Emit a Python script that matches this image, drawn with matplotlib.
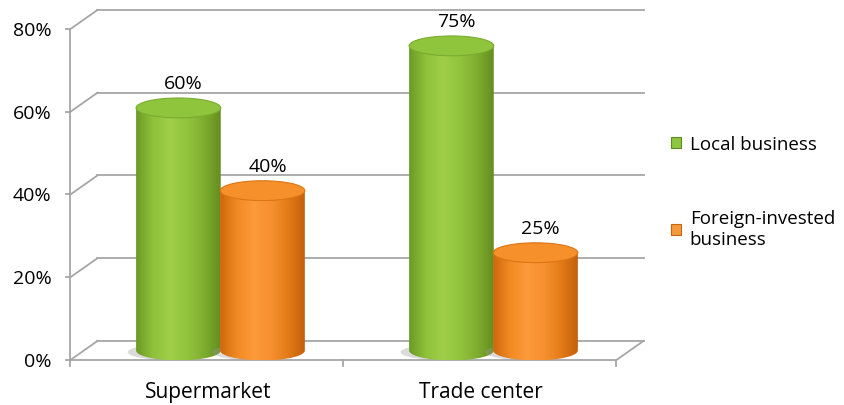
import matplotlib
matplotlib.use('Agg')
import matplotlib.pyplot as plt
import numpy as np
from matplotlib.patches import Ellipse, Polygon, Patch
from matplotlib.colors import LinearSegmentedColormap

# data
categories = ['Supermarket', 'Trade center']
series = ['Local business', 'Foreign-invested\nbusiness']
local = [60, 75]
foreign = [40, 25]
yticks = [0, 20, 40, 60, 80]

# look
GRID = '#A6A6A6'
FONT = 'Open Sans'
FS = 13.5
DX, DY = 0.099, 4.6        # depth offset of the back wall (data units)
W = 0.31                   # cylinder width
EH = 4.8                   # ellipse height (percent units)
OFF = 0.154                # half distance between the two cylinders
TOP_DEPTH = 0.2            # perspective: tops sit nearer the front plane

green_cm = LinearSegmentedColormap.from_list(
    'g', ['#6c9a25', '#8fc13a', '#9fcf48', '#93c43e', '#7fae2f', '#648d1f'])
orange_cm = LinearSegmentedColormap.from_list(
    'o', ['#cf670c', '#f08a24', '#fd9a3a', '#f79030', '#e47b18', '#c4600b'])
series_style = [
    (green_cm, '#8fc53d', '#7aab2e', '#8dc63f', '#5f8a22'),
    (orange_cm, '#f5902a', '#dc7514', '#f39a3a', '#c86412'),
]

fig = plt.figure(figsize=(8.45, 4.06), dpi=100)
ax = fig.add_axes([0, 0, 1, 1])
ax.set_axis_off()

x_left, x_right = -0.5, len(categories) - 0.5


def cylinder(xc, val, cmap, topc, edgec, z):
    yb = DY * 0.5
    yt = val + DY * TOP_DEPTH
    # soft shadow on the floor, mostly to the left
    ax.add_patch(Ellipse((xc - W * 0.1, yb - 0.4), W * 1.0, EH * 0.8,
                         facecolor='#9a9a9a', edgecolor='none', alpha=0.35, zorder=z))
    t = np.linspace(np.pi, 2 * np.pi, 80)
    arc = np.column_stack([xc + W / 2 * np.cos(t), yb + EH / 2 * np.sin(t)])
    poly = np.vstack([[xc - W / 2, yt], arc, [xc + W / 2, yt]])
    body = Polygon(poly, closed=True, facecolor='none', edgecolor='none', zorder=z + 1)
    ax.add_patch(body)
    grad = np.linspace(0, 1, 256).reshape(1, -1)
    im = ax.imshow(grad, cmap=cmap, extent=[xc - W / 2, xc + W / 2, yb - EH / 2, yt],
                   aspect='auto', zorder=z + 1, interpolation='bilinear')
    im.set_clip_path(body)
    ax.add_patch(Ellipse((xc, yt), W, EH, facecolor=topc, edgecolor=edgec,
                         lw=0.8, zorder=z + 2))
    ax.annotate(f'{val}%', (xc, yt + EH / 2), xytext=(5, 6), textcoords='offset pixels',
                ha='center', va='bottom', fontsize=14, family=FONT, zorder=z + 3)


# back wall grid + left diagonals, y tick labels
for v in yticks:
    ax.plot([x_left + DX, x_right + DX], [v + DY, v + DY], color=GRID, lw=1.3, zorder=1)
    ax.plot([x_left, x_left + DX], [v, v + DY], color=GRID, lw=1.3, zorder=1)
    ax.plot([x_left - 0.018, x_left], [v, v], color=GRID, lw=1.3, zorder=1)
    ax.annotate(f'{v}%', (x_left, v), xytext=(-19, -1), textcoords='offset pixels',
                ha='right', va='center', fontsize=14, family=FONT)

# front axis and floor
ax.plot([x_left, x_left], [0, yticks[-1]], color=GRID, lw=1.3, zorder=1)
ax.plot([x_left, x_right], [0, 0], color=GRID, lw=1.3, zorder=1)
ax.plot([x_right, x_right + DX], [0, DY], color=GRID, lw=1.3, zorder=1)
for xt in np.arange(len(categories) + 1) - 0.5:
    ax.plot([xt, xt], [0, -1.5], color=GRID, lw=1.3, zorder=1)

for i, cat in enumerate(categories):
    ax.annotate(cat, (i, 0), xytext=(1, -21), textcoords='offset pixels',
                ha='center', va='top', fontsize=15, family=FONT)

for k, vals in enumerate([local, foreign]):
    cm, topc, edgec, _, _ = series_style[k]
    for i, v in enumerate(vals):
        xc = i + (2 * k - 1) * OFF + DX * 0.5
        cylinder(xc, v, cm, topc, edgec, 3 + 4 * k)

ax.set_xlim(-0.758, 2.337)
ax.set_ylim(-10.88, 87.25)

handles = [Patch(facecolor=s[3], edgecolor=s[4], lw=0.8) for s in series_style]
leg = fig.legend(handles, series, loc='upper left', bbox_to_anchor=(0.774, 0.706),
                 frameon=False, handlelength=0.55, handleheight=0.55,
                 handletextpad=0.45, labelspacing=3.0,
                 prop={'family': FONT, 'size': FS})

fig.savefig('out.png', dpi=100)
